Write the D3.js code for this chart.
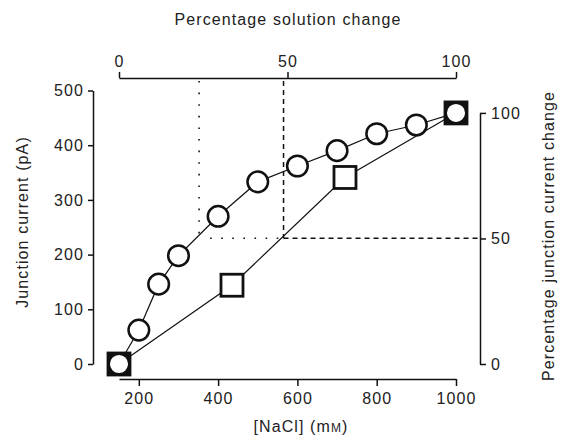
<!DOCTYPE html>
<html>
<head>
<meta charset="utf-8">
<script src="https://cdn.jsdelivr.net/npm/d3@7"></script>
<style>
  body { margin: 0; background: #fff; }
  svg text { font-family: "Liberation Sans", Arial, sans-serif; fill: #222; }
</style>
</head>
<body>
<div id="graph"></div>
<script>
// circles: junction current vs [NaCl]
var circleNaCl = [150, 200, 250, 300, 400, 500, 600, 700, 800, 900, 1000];
var circleCurrent = [0, 62, 146, 198, 270, 333, 362, 390, 421, 437, 459];
// squares
var squareNaCl = [150, 435, 720, 1000];
var squareCurrent = [0, 144, 341, 459];
// 50% guide lines (dotted = circles, dashed = squares)
var halfNaCl = [352, 565];
var halfCurrent = 230;

var xTicks = [200, 400, 600, 800, 1000];
var yTicks = [0, 100, 200, 300, 400, 500];
var topTicks = [0, 50, 100];
var rightTicks = [0, 50, 100];

var width = 567, height = 441;
var margin = {top: 78, right: 111, bottom: 77, left: 93};
var fontSize = "16px", spacing = "1.1px";

var svg = d3.select("#graph").append("svg")
    .attr("width", width)
    .attr("height", height);

var x = d3.scaleLinear().domain([150, 1000]).range([119, width - margin.right]);
var xTop = d3.scaleLinear().domain([0, 100]).range([119, width - margin.right]);
var y = d3.scaleLinear().domain([0, 500]).range([height - margin.bottom, 90.5]);
var yRight = d3.scaleLinear().domain([0, 100]).range([y(0), y(459)]);

function styleAxis(g) {
    g.selectAll("path").attr("stroke", "#111").attr("stroke-width", 1.5);
    g.selectAll("line").attr("stroke", "#111").attr("stroke-width", 1.5);
    g.selectAll("text").attr("font-size", fontSize).attr("letter-spacing", spacing)
        .attr("font-family", "'Liberation Sans', Arial, sans-serif").attr("fill", "#222");
}

// bottom axis
svg.append("g")
    .attr("transform", "translate(0," + (height - margin.bottom + 15) + ")")
    .call(d3.axisBottom(x).tickValues(xTicks).tickSize(7).tickSizeOuter(0).tickPadding(7).tickFormat(d3.format("d")))
    .call(styleAxis);

// top axis
svg.append("g")
    .attr("transform", "translate(0," + margin.top + ")")
    .call(d3.axisTop(xTop).tickValues(topTicks).tickSize(6).tickSizeOuter(0).tickPadding(5))
    .call(styleAxis);

// left axis
svg.append("g")
    .attr("transform", "translate(" + margin.left + ",0)")
    .call(d3.axisLeft(y).tickValues(yTicks).tickSize(5).tickSizeOuter(0).tickPadding(4))
    .call(styleAxis);

// right axis
svg.append("g")
    .attr("transform", "translate(" + (width - 87) + ",0)")
    .call(d3.axisRight(yRight).tickValues(rightTicks).tickSize(6).tickSizeOuter(0).tickPadding(5))
    .call(styleAxis);

// 50% guides
var guideY = y(halfCurrent);
svg.append("line")
    .attr("x1", x(halfNaCl[0])).attr("x2", x(halfNaCl[0]))
    .attr("y1", margin.top + 3).attr("y2", guideY)
    .attr("stroke", "#111").attr("stroke-width", 1.6).attr("stroke-dasharray", "1.6,10");
svg.append("line")
    .attr("x1", x(halfNaCl[0]) + 11).attr("x2", x(halfNaCl[1]))
    .attr("y1", guideY).attr("y2", guideY)
    .attr("stroke", "#111").attr("stroke-width", 1.6).attr("stroke-dasharray", "1.6,9.5");
svg.append("line")
    .attr("x1", x(halfNaCl[1])).attr("x2", x(halfNaCl[1]))
    .attr("y1", margin.top + 3).attr("y2", guideY)
    .attr("stroke", "#111").attr("stroke-width", 1.5).attr("stroke-dasharray", "5,4");
svg.append("line")
    .attr("x1", x(halfNaCl[1])).attr("x2", width - 87)
    .attr("y1", guideY).attr("y2", guideY)
    .attr("stroke", "#111").attr("stroke-width", 1.5).attr("stroke-dasharray", "5,4");

var circles = circleNaCl.map(function (d, i) { return {nacl: d, current: circleCurrent[i]}; });
var squares = squareNaCl.map(function (d, i) { return {nacl: d, current: squareCurrent[i]}; });

var line = d3.line()
    .x(function (d) { return x(d.nacl); })
    .y(function (d) { return y(d.current); });

svg.append("path").datum(squares)
    .attr("d", line).attr("fill", "none").attr("stroke", "#111").attr("stroke-width", 1.2);
svg.append("path").datum(circles)
    .attr("d", line).attr("fill", "none").attr("stroke", "#111").attr("stroke-width", 1.2);

var sq = 22;
svg.selectAll(".sq").data(squares).enter().append("rect")
    .attr("x", function (d) { return x(d.nacl) - sq / 2; })
    .attr("y", function (d) { return y(d.current) - sq / 2; })
    .attr("width", sq).attr("height", sq)
    .attr("fill", function (d) { return circleNaCl.indexOf(d.nacl) >= 0 ? "#111" : "#fff"; })
    .attr("stroke", "#111").attr("stroke-width", 2.8);

svg.selectAll(".ci").data(circles).enter().append("circle")
    .attr("cx", function (d) { return x(d.nacl); })
    .attr("cy", function (d) { return y(d.current); })
    .attr("r", 10.3)
    .attr("fill", "#fff").attr("stroke", "#111").attr("stroke-width", 2.5);

// titles
svg.append("text")
    .attr("x", 288).attr("y", 25)
    .attr("text-anchor", "middle").attr("font-size", fontSize).attr("letter-spacing", spacing)
    .text("Percentage solution change");

var xt = svg.append("text")
    .attr("x", 301).attr("y", 432)
    .attr("text-anchor", "middle").attr("font-size", fontSize).attr("letter-spacing", spacing);
xt.append("tspan").text("[NaCl] (m");
xt.append("tspan").attr("font-size", "12px").text("M");
xt.append("tspan").text(")");

svg.append("text")
    .attr("transform", "translate(28,222) rotate(-90)")
    .attr("text-anchor", "middle").attr("font-size", fontSize).attr("letter-spacing", spacing)
    .text("Junction current (pA)");

svg.append("text")
    .attr("transform", "translate(554,236) rotate(-90)")
    .attr("text-anchor", "middle").attr("font-size", fontSize).attr("letter-spacing", spacing)
    .text("Percentage junction current change");
</script>
</body>
</html>
